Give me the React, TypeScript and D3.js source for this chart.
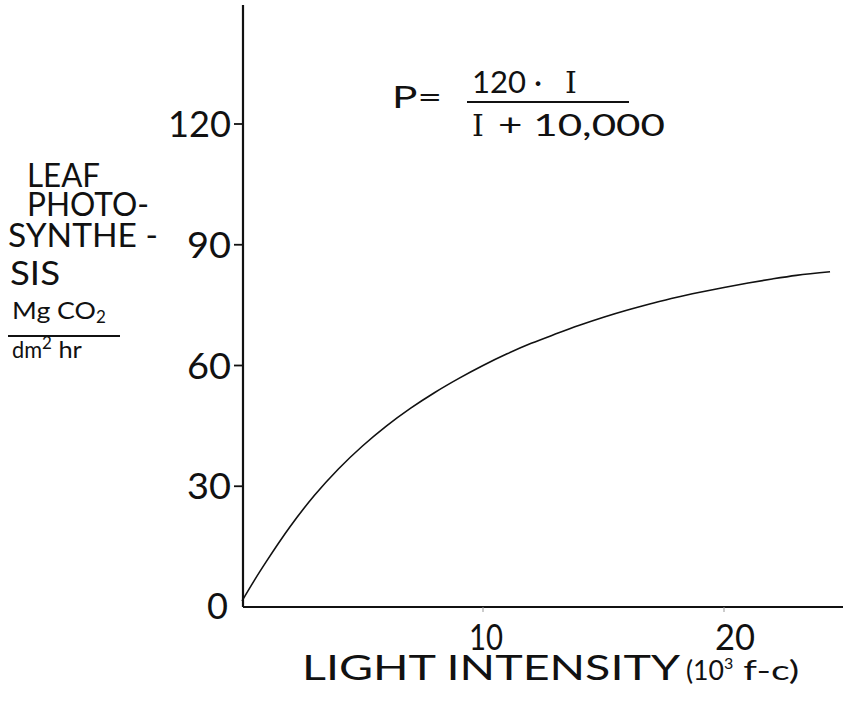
import React from "react";
import * as d3 from "d3";

// Light response of leaf photosynthesis, P = 120·I / (I + 10,000)
const intensity = [0, 0.5, 1, 2, 3, 4, 5, 6, 7, 8, 9, 10, 11, 12, 13, 14, 15, 16, 17, 18, 19, 20, 21, 22, 23, 24.4];
const photosynthesis = [1.5, 6.5, 11.2, 20.0, 27.7, 34.3, 40.0, 45.0, 49.4, 53.3, 56.8, 60.0, 62.9, 65.5, 67.8, 70.0, 72.0, 73.8, 75.4, 76.9, 78.2, 79.4, 80.5, 81.5, 82.4, 83.3];
const yTicks = [30, 60, 90, 120];
const xTicks = [10, 20];
const yTitleLines = ["LEAF", "PHOTO-", "SYNTHE -", "SIS"];

const W = 844;
const H = 701;
const FONT = "Lato, 'Liberation Sans', Arial, sans-serif";
const SERIF = "'DejaVu Serif', 'Liberation Serif', serif";
const INK = "#111";
const WEIGHT = 400;

export default function App() {
  const x = d3.scaleLinear().domain([0, 10]).range([242, 483]);
  const y = d3.scaleLinear().domain([0, 120]).range([607, 124]);

  const points = intensity.map((v, i) => [v, photosynthesis[i]] as [number, number]);
  const line = d3
    .line<[number, number]>()
    .x((d) => x(d[0]))
    .y((d) => y(d[1]))
    .curve(d3.curveMonotoneX);

  const axisLeft = 243;
  const axisBottom = 607;

  const txt = { fontFamily: FONT, fontWeight: WEIGHT, fill: INK } as const;

  return (
    <div style={{ position: "absolute", left: 0, top: 0 }}>
      <svg width={W} height={H} style={{ display: "block", background: "#fff" }}>
        {/* axes */}
        <line x1={axisLeft} y1={5} x2={axisLeft} y2={axisBottom} stroke={INK} strokeWidth={2.2} />
        <line x1={axisLeft} y1={axisBottom} x2={843} y2={axisBottom} stroke={INK} strokeWidth={2.2} />

        {/* y ticks and labels */}
        {yTicks.map((t) => (
          <g key={t}>
            <line x1={axisLeft - 9} y1={y(t)} x2={axisLeft} y2={y(t)} stroke={INK} strokeWidth={1.8} />
            <text
              {...txt}
              x={231}
              y={y(t) + 13}
              textAnchor="end"
              fontSize={36}
              textLength={t >= 100 ? 63 : 44}
              lengthAdjust="spacingAndGlyphs"
            >
              {t}
            </text>
          </g>
        ))}
        <text {...txt} x={207} y={619} fontSize={36} textLength={21} lengthAdjust="spacingAndGlyphs">
          0
        </text>

        {/* x ticks and labels */}
        {xTicks.map((t) => (
          <g key={t}>
            <line x1={x(t)} y1={axisBottom} x2={x(t)} y2={axisBottom + 5} stroke="#999" strokeWidth={1} />
            <text
              {...txt}
              x={x(t) + (t === 10 ? 3 : 11)}
              y={650}
              textAnchor="middle"
              fontSize={36}
              textLength={t === 10 ? 34 : 40}
              lengthAdjust="spacingAndGlyphs"
            >
              {t}
            </text>
          </g>
        ))}

        {/* x axis title */}
        <text {...txt} x={302} y={680} fontSize={34} textLength={378} lengthAdjust="spacingAndGlyphs">
          LIGHT INTENSITY
        </text>
        <text {...txt} x={686} y={680} fontSize={26}>
          <tspan textLength={38} lengthAdjust="spacingAndGlyphs">(10</tspan>
          <tspan fontSize={16} dy={-11}>3</tspan>
          <tspan dy={11} textLength={66} lengthAdjust="spacingAndGlyphs"> f-c)</tspan>
        </text>

        {/* y axis title */}
        {yTitleLines.map((s, i) => (
          <text
            key={s}
            {...txt}
            x={[27, 27, 8, 10][i]}
            y={[187, 216, 247, 285][i]}
            fontSize={33}
            textLength={[73, 122, 150, 50][i]}
            lengthAdjust="spacingAndGlyphs"
          >
            {s}
          </text>
        ))}
        <text {...txt} x={12} y={319} fontSize={24}>
          <tspan textLength={84} lengthAdjust="spacingAndGlyphs">Mg CO</tspan>
          <tspan fontSize={17} dy={4}>2</tspan>
        </text>
        <line x1={8} y1={336} x2={120} y2={336} stroke={INK} strokeWidth={1.8} />
        <text {...txt} x={12} y={358} fontSize={24}>
          <tspan textLength={30} lengthAdjust="spacingAndGlyphs">dm</tspan>
          <tspan fontSize={17} dy={-9}>2</tspan>
          <tspan dy={9} textLength={30} lengthAdjust="spacingAndGlyphs"> hr</tspan>
        </text>

        {/* formula */}
        <text {...txt} x={392} y={108} fontSize={30} textLength={50} lengthAdjust="spacingAndGlyphs">
          P=
        </text>
        <text {...txt} x={472} y={93} fontSize={30}>
          <tspan textLength={70} lengthAdjust="spacingAndGlyphs">120 ·</tspan>
          <tspan x={565} fontFamily={SERIF}>I</tspan>
        </text>
        <line x1={467} y1={102} x2={629} y2={102} stroke={INK} strokeWidth={2} />
        <text {...txt} x={472} y={136} fontSize={30}>
          <tspan fontFamily={SERIF}>I</tspan>
          <tspan x={498} textLength={167} lengthAdjust="spacingAndGlyphs">+ 10,000</tspan>
        </text>

        {/* response curve */}
        <path d={line(points) ?? ""} fill="none" stroke={INK} strokeWidth={1.6} />
      </svg>
    </div>
  );
}
